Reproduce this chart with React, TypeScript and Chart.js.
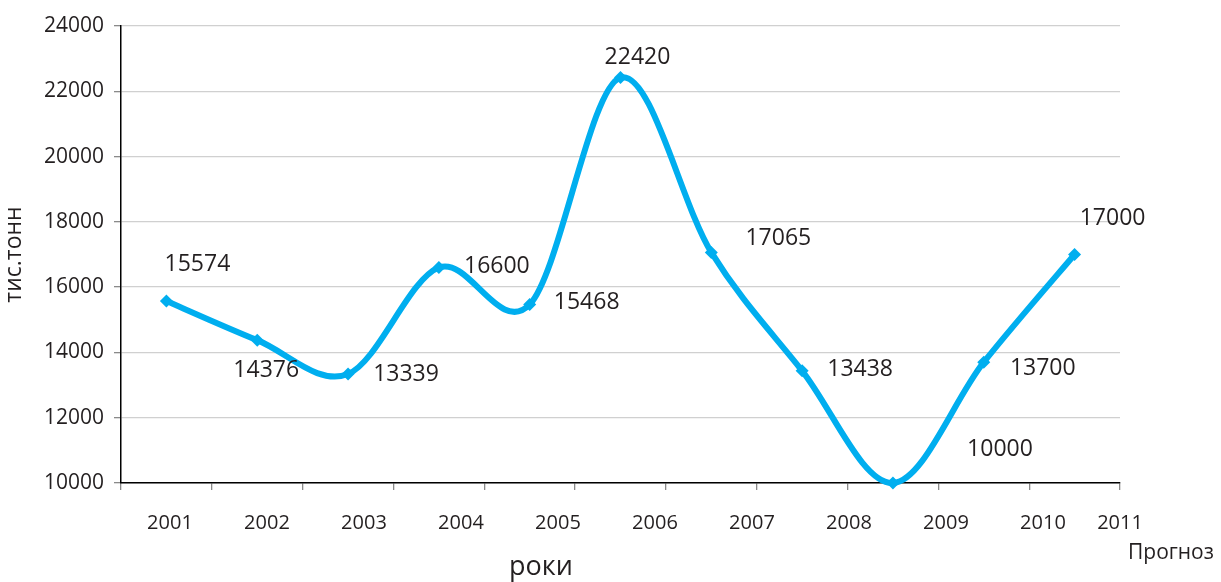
import { useEffect, useRef } from "react";
import { Chart, registerables } from "chart.js";

Chart.register(...registerables);

// ---- data ----
const categories = ["2001", "2002", "2003", "2004", "2005", "2006", "2007", "2008", "2009", "2010", "2011"];
const production = [15574, 14376, 13339, 16600, 15468, 22420, 17065, 13438, 10000, 13700, 17000];
const xTickLabels = ["2001", "2002", "2003", "2004", "2005", "2006", "2007", "2008", "2009", "2010", "2011"];
const yMin = 10000;
const yMax = 24000;
const yStep = 2000;
const yTitle = "тис.тонн";
const xTitle = "роки";
const forecastNote = "Прогноз";

// value-label placement relative to each point (style)
const labelDx = [31, 9, 58, 58, 57, 17, 67, 58, 107, 59, 38];
const labelDy = [-37, 30, 0, -1, -2, -20, -14, -1, -34, 6, -36];

const FONT = "'Open Sans', 'Noto Sans', sans-serif";
const TEXT = "#231f20";
const LINE = "#00aeef";

// Excel-like (Catmull-Rom) smoothing of the line's bezier control points
const smoothCurve = {
  id: "smoothCurve",
  afterDatasetsUpdate(chart: any) {
    const meta = chart.getDatasetMeta(0);
    const line = meta.dataset;
    const pts = meta.data;
    if (line && line.updateControlPoints) line.updateControlPoints(chart.chartArea, "x");
    const n = pts.length;
    for (let i = 0; i < n; i++) {
      const p = pts[i];
      const prev = pts[Math.max(i - 1, 0)];
      const next = pts[Math.min(i + 1, n - 1)];
      const tx = (next.x - prev.x) / 6;
      const ty = (next.y - prev.y) / 6;
      p.cp1x = p.x - tx;
      p.cp1y = p.y - ty;
      p.cp2x = p.x + tx;
      p.cp2y = p.y + ty;
    }
  },
};

const valueLabels = {
  id: "valueLabels",
  afterDatasetsDraw(chart: any) {
    const ctx = chart.ctx;
    const meta = chart.getDatasetMeta(0);
    ctx.save();
    ctx.font = `23px ${FONT}`;
    ctx.fillStyle = TEXT;
    ctx.textAlign = "center";
    ctx.textBaseline = "middle";
    meta.data.forEach((pt: any, i: number) => {
      ctx.fillText(String(production[i]), pt.x + labelDx[i], pt.y + labelDy[i]);
    });
    ctx.restore();
  },
  afterDraw(chart: any) {
    const ctx = chart.ctx;
    ctx.save();
    ctx.fillStyle = TEXT;
    ctx.textBaseline = "alphabetic";
    ctx.textAlign = "center";
    ctx.font = `27px ${FONT}`;
    ctx.fillText(xTitle, 541, 575);
    ctx.textAlign = "left";
    ctx.font = `21px ${FONT}`;
    ctx.fillText(forecastNote, 1128, 559);
    ctx.restore();
  },
};

export default function App() {
  const ref = useRef<HTMLCanvasElement>(null);

  useEffect(() => {
    document.body.style.margin = "0";
    const chart = new Chart(ref.current!, {
      type: "line",
      data: {
        labels: categories,
        datasets: [
          {
            data: production,
            borderColor: LINE,
            backgroundColor: LINE,
            borderWidth: 6,
            tension: 0.4,
            pointStyle: "rectRot",
            pointRadius: 6.5,
            pointBorderWidth: 0,
            pointBackgroundColor: LINE,
            fill: false,
            clip: 8,
          },
        ],
      },
      options: {
        animation: false,
        responsive: false,
        devicePixelRatio: 1,
        layout: { padding: { left: 0, top: 26, right: 101, bottom: 0 } },
        plugins: { legend: { display: false }, tooltip: { enabled: false }, title: { display: false } },
        scales: {
          y: {
            type: "linear",
            position: "left",
            min: yMin,
            max: yMax,
            ticks: {
              stepSize: yStep,
              padding: 10,
              color: TEXT,
              font: { family: FONT, size: 21 },
              callback: (v: any) => String(v),
            },
            grid: { color: "#d0d0d0", lineWidth: 1.3, tickLength: 7, tickColor: "#8a8a8a" },
            border: { display: true, color: "#000", width: 1.5 },
            title: {
              display: true,
              text: yTitle,
              color: TEXT,
              font: { family: FONT, size: 23 },
              padding: { top: 1, bottom: 0 },
            },
            afterFit(scale: any) {
              scale.width = 121;
              scale.paddingTop = 0;
              scale.paddingBottom = 0;
            },
          },
          x: {
            type: "category",
            position: "bottom",
            weight: 0,
            offset: true,
            ticks: { display: false },
            grid: {
              offset: true,
              drawOnChartArea: false,
              drawTicks: true,
              tickLength: 7,
              tickColor: "#8a8a8a",
              lineWidth: 1.3,
            },
            border: { display: true, color: "#000", width: 1.5 },
            afterFit(scale: any) {
              scale.height = 7;
              scale.paddingLeft = 0;
              scale.paddingRight = 0;
            },
          },
          xl: {
            type: "linear",
            position: "bottom",
            weight: 1,
            min: -0.505,
            max: 9.794,
            grid: { display: false, drawTicks: false },
            border: { display: false },
            ticks: {
              autoSkip: false,
              maxRotation: 0,
              minRotation: 0,
              padding: 21,
              color: TEXT,
              font: { family: FONT, size: 20 },
              callback: (_v: any, i: number) => xTickLabels[i],
            },
            afterBuildTicks(scale: any) {
              scale.ticks = xTickLabels.map((_, i) => ({ value: Math.min(i, scale.max) }));
            },
            afterFit(scale: any) {
              scale.height = 92;
              scale.paddingLeft = 0;
              scale.paddingRight = 0;
            },
          },
        },
      },
      plugins: [smoothCurve, valueLabels],
    } as any);
    return () => chart.destroy();
  }, []);

  return (
    <div style={{ position: "absolute", left: 0, top: 0, width: 1221, height: 582, background: "#fff" }}>
      <canvas ref={ref} width={1221} height={582} />
    </div>
  );
}
